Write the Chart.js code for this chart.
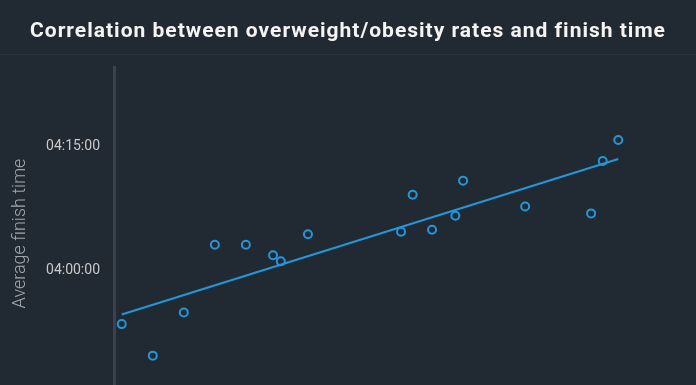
<!DOCTYPE html>
<html>
<head>
<meta charset="utf-8">
<script src="https://cdn.jsdelivr.net/npm/chart.js@4"></script>
<style>
  html, body { margin: 0; padding: 0; background: #212a33; overflow: hidden; }
  #wrap { width: 696px; height: 385px; position: relative; overflow: hidden; }
  canvas { display: block; }
</style>
</head>
<body>
<div id="wrap"><canvas id="c" width="696" height="406"></canvas></div>
<script>
// Overweight/obesity rate (%) per region
const obesityRates = [55.2, 56.0, 56.8, 57.6, 58.4, 59.1, 59.3, 60.0, 62.4, 62.7, 63.2, 63.8, 64.0, 65.6, 67.3, 67.6, 68.0];
// Average finish time in seconds
const finishTimes = [14013, 13785, 14097, 14587, 14587, 14511, 14467, 14663, 14681, 14949, 14695, 14797, 15051, 14864, 14814, 15193, 15345];
// Trend line end points
const trendX = [55.2, 68.0];
const trendY = [14083, 15208];
// Tick values (seconds)
const yTicks = [14400, 15300];

const blue = '#2596d9';
const bg = '#212a33';

function fmt(s) {
  const h = Math.floor(s / 3600), m = Math.floor((s % 3600) / 60), sec = Math.round(s % 60);
  const p = n => String(n).padStart(2, '0');
  return p(h) + ':' + p(m) + ':' + p(sec);
}

const bgPlugin = {
  id: 'bgPlugin',
  afterInit(chart) {
    const tb = chart.titleBlock;
    if (tb && !tb._patched) {
      const orig = tb.draw;
      tb.draw = function () {
        const ctx = this.ctx;
        ctx.save();
        try { ctx.letterSpacing = '1px'; } catch (e) {}
        orig.apply(this, arguments);
        ctx.restore();
      };
      tb._patched = true;
    }
  },
  beforeDraw(chart) {
    const ctx = chart.ctx;
    ctx.save();
    ctx.fillStyle = bg;
    ctx.fillRect(0, 0, chart.width, chart.height);
    ctx.strokeStyle = '#29323b';
    ctx.lineWidth = 1;
    ctx.beginPath();
    ctx.moveTo(0, 54.5);
    ctx.lineTo(chart.width, 54.5);
    ctx.stroke();
    ctx.restore();
  }
};

new Chart(document.getElementById('c'), {
  type: 'scatter',
  data: {
    datasets: [
      {
        type: 'line',
        data: trendX.map((x, i) => ({ x, y: trendY[i] })),
        borderColor: blue,
        borderWidth: 2,
        pointRadius: 0,
        fill: false,
        order: 2
      },
      {
        data: obesityRates.map((x, i) => ({ x, y: finishTimes[i] })),
        borderColor: blue,
        backgroundColor: 'rgba(0,0,0,0)',
        borderWidth: 2,
        pointRadius: 4,
        pointHoverRadius: 4,
        order: 1
      }
    ]
  },
  options: {
    responsive: false,
    animation: false,
    devicePixelRatio: 1,
    layout: { padding: 0 },
    plugins: {
      legend: { display: false },
      tooltip: { enabled: false },
      title: {
        display: true,
        text: 'Correlation between overweight/obesity rates and finish time',
        color: '#f4f4f4',
        font: { family: 'Roboto', size: 21, weight: 'bold', lineHeight: 1.2 },
        padding: { top: 19, bottom: 22.8 }
      }
    },
    scales: {
      x: {
        type: 'linear',
        display: false,
        min: 55,
        max: 69.85
      },
      y: {
        type: 'linear',
        min: 13464,
        max: 15873,
        afterBuildTicks(scale) { scale.ticks = yTicks.map(v => ({ value: v })); },
        afterFit(scale) {
          scale.width = 114;
          scale.paddingTop = 0;
          scale.paddingBottom = 0;
        },
        grid: { display: false, drawTicks: false },
        border: { display: true, color: '#3a434c', width: 3 },
        ticks: {
          color: '#c9c9c9',
          padding: 14,
          font: { family: 'Roboto', size: 14 },
          callback: v => fmt(v)
        },
        title: {
          display: true,
          text: 'Average finish time',
          color: '#a3a7ab',
          font: { family: 'Roboto', size: 18, weight: '300' },
          padding: { top: 10, bottom: 0 }
        }
      }
    }
  },
  plugins: [bgPlugin]
});
</script>
</body>
</html>
